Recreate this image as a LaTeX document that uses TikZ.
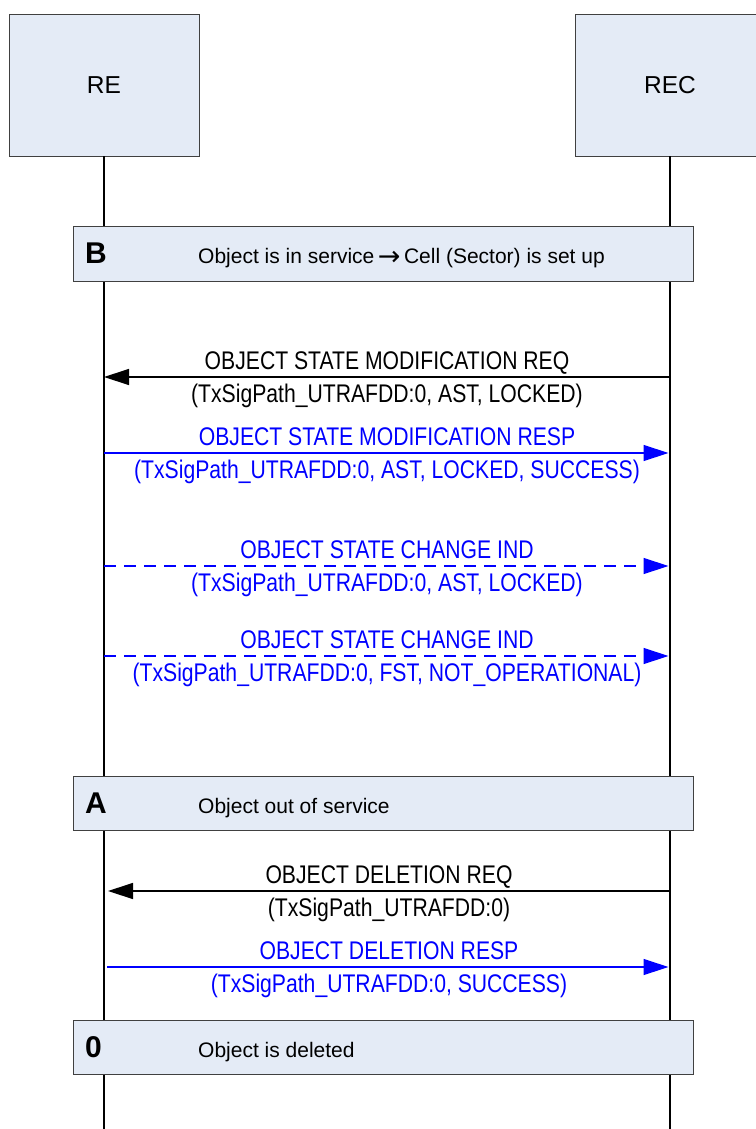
\documentclass[tikz,border=0pt]{standalone}
\usepackage{fontspec}
\setmainfont{Liberation Sans}
\newfontfamily\narrowsans[FakeStretch=0.83]{Liberation Sans}
\newfontfamily\arrowfont{DejaVu Sans}
\usepackage{tikz}
\usetikzlibrary{arrows.meta, positioning}
\usepackage{xcolor}
\definecolor{boxfill}{RGB}{228,235,246}
\definecolor{msgblue}{RGB}{0,0,255}

\begin{document}
\begin{tikzpicture}[x=1pt, y=-1pt,
  entity/.style={draw=black!75, fill=boxfill, line width=0.8pt, minimum width=190pt, minimum height=142pt, font=\fontsize{24.5}{28}\selectfont},
  lifeline/.style={line width=1.3pt},
  statebox/.style={draw=black!75, fill=boxfill, line width=0.8pt, minimum width=620pt, minimum height=54.5pt, anchor=north west},
  statekey/.style={font=\fontsize{30}{34}\selectfont\bfseries, anchor=base west, inner sep=0pt},
  statetext/.style={font=\fontsize{21}{24}\selectfont, anchor=base west, inner sep=0pt},
  msg/.style={line width=1.3pt, -{Triangle[length=25pt, width=16pt]}},
  msgtop/.style={midway, anchor=base, yshift=8pt, inner sep=0pt, font=\narrowsans\fontsize{25.5}{28}\selectfont},
  msgbot/.style={midway, anchor=base, yshift=-25pt, inner sep=0pt, font=\narrowsans\fontsize{25.5}{28}\selectfont}]
  \useasboundingbox (0,0) rectangle (755,1129);
  % Entities and lifelines
  \node[entity] (re) at (104,85) {RE};
  \node[entity] (rec) at (670,85) {REC};
  \coordinate (re-end) at (104,1129);
  \coordinate (rec-end) at (670,1129);
  \draw[lifeline] (re.south) -- (re-end);
  \draw[lifeline] (rec.south) -- (rec-end);
  \foreach \n/\y in {1/377, 2/453, 3/566, 4/656, 5/891, 6/967} {
    \coordinate (re\n) at (104,\y);
    \coordinate (rec\n) at (670,\y);
  }
  % States
  \node[statebox] (stB) at (73,226) {};
  \node[statekey] (keyB) at ([xshift=12pt, yshift=-10pt]stB.west) {B};
  \node[statetext] (txtB) at ([xshift=125pt, yshift=-10pt]stB.west) {Object is in service\,{\arrowfont\fontsize{27}{24}\selectfont\raisebox{-1.5pt}{→}}\,Cell (Sector) is set up};
  \node[statebox] (stA) at (73,775.5) {};
  \node[statekey] (keyA) at ([xshift=12pt, yshift=-10pt]stA.west) {A};
  \node[statetext] (txtA) at ([xshift=125pt, yshift=-10pt]stA.west) {Object out of service};
  \node[statebox] (st0) at (73,1019.5) {};
  \node[statekey] (key0) at ([xshift=12pt, yshift=-10pt]st0.west) {0};
  \node[statetext] (txt0) at ([xshift=125pt, yshift=-10pt]st0.west) {Object is deleted};
  % Messages
  \draw[msg] (rec1) -- (re1)
    node[msgtop] {OBJECT STATE MODIFICATION REQ}
    node[msgbot] {(TxSigPath\_UTRAFDD:0, AST, LOCKED)};
  \draw[msg, msgblue, shorten >=1.5pt] (re2) -- (rec2)
    node[msgtop] {OBJECT STATE MODIFICATION RESP}
    node[msgbot] {(TxSigPath\_UTRAFDD:0, AST, LOCKED, SUCCESS)};
  \draw[msg, msgblue, dash pattern=on 12pt off 8pt, shorten >=1.5pt] (re3) -- (rec3)
    node[msgtop] {OBJECT STATE CHANGE IND}
    node[msgbot] {(TxSigPath\_UTRAFDD:0, AST, LOCKED)};
  \draw[msg, msgblue, dash pattern=on 12pt off 8pt, shorten >=1.5pt] (re4) -- (rec4)
    node[msgtop] {OBJECT STATE CHANGE IND}
    node[msgbot] {(TxSigPath\_UTRAFDD:0, FST, NOT\_OPERATIONAL)};
  \draw[msg, shorten >=4pt] (rec5) -- (re5)
    node[msgtop, xshift=2pt] {OBJECT DELETION REQ}
    node[msgbot, xshift=2pt] {(TxSigPath\_UTRAFDD:0)};
  \draw[msg, msgblue, shorten <=3pt, shorten >=1.5pt] (re6) -- (rec6)
    node[msgtop, xshift=2pt] {OBJECT DELETION RESP}
    node[msgbot, xshift=2pt] {(TxSigPath\_UTRAFDD:0, SUCCESS)};
\end{tikzpicture}
\end{document}
